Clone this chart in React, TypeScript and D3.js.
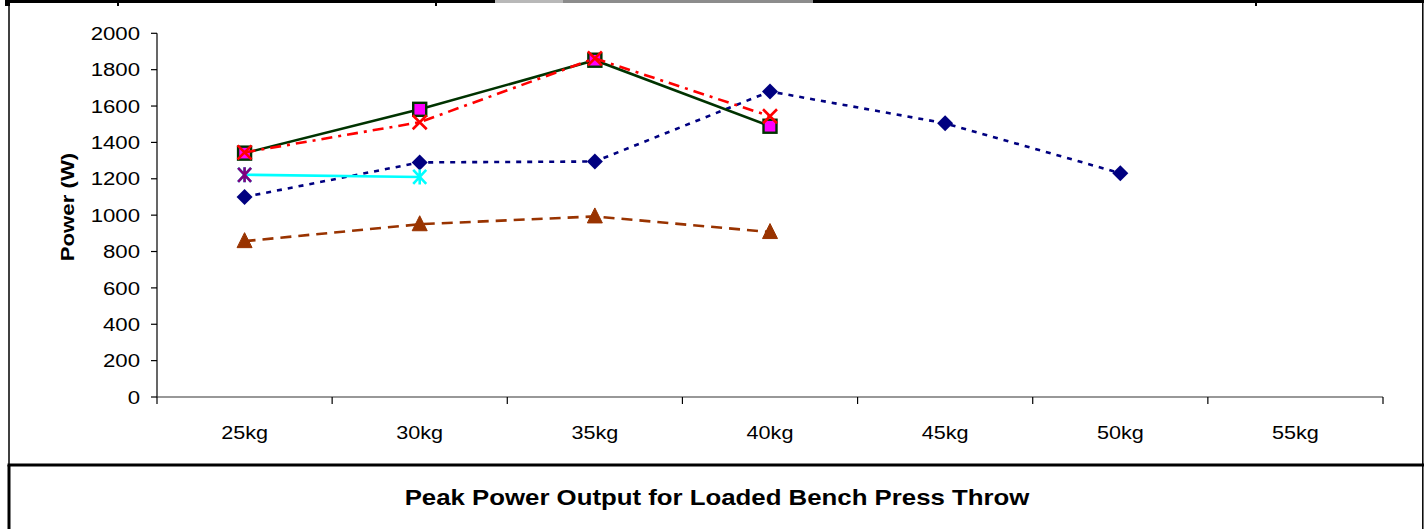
import React from "react";
import * as d3 from "d3";

const categories = ["25kg", "30kg", "35kg", "40kg", "45kg", "50kg", "55kg"];
const yTicks = [0, 200, 400, 600, 800, 1000, 1200, 1400, 1600, 1800, 2000];

const navySeries: (number | null)[] = [1100, 1290, 1295, 1680, 1505, 1231, null];
const brownSeries: (number | null)[] = [857, 950, 993, 907, null, null, null];
const cyanSeries: (number | null)[] = [1222, 1210, null, null, null, null, null];
const purpleSeries: (number | null)[] = [1222, null, null, null, null, null, null];
const greenSeries: (number | null)[] = [1341, 1582, 1852, 1489, null, null, null];
const redSeries: (number | null)[] = [1345, 1511, 1862, 1544, null, null, null];

const titleText = "Peak Power Output for Loaded Bench Press Throw";
const yTitle = "Power (W)";

const W = 1424;
const H = 529;
const plotL = 157;
const plotR = 1383;
const plotT = 33.3;
const plotB = 397;
const FONT = "'Liberation Sans', Arial, sans-serif";
const SX = 1.2;

function T(props: { x: number; y: number; anchor?: string; size: number; bold?: boolean; rotate?: number; dy?: string; children: React.ReactNode }) {
  const { x, y, anchor = "middle", size, bold, rotate = 0, dy, children } = props;
  return (
    <g transform={`translate(${x},${y}) rotate(${rotate}) scale(${SX},1)`}>
      <text x={0} y={0} dy={dy} textAnchor={anchor} fontSize={size} fontWeight={bold ? "bold" : "normal"} fill="#000">
        {children}
      </text>
    </g>
  );
}

export default function App() {
  const x = d3.scaleBand<string>().domain(categories).range([plotL, plotR]).padding(0);
  const y = d3.scaleLinear().domain([0, 2000]).range([plotB, plotT]);
  const cx = (c: string) => (x(c) as number) + x.bandwidth() / 2;

  const pts = (s: (number | null)[]) =>
    s.map((v, i) => ({ c: categories[i], v })).filter((d) => d.v !== null) as { c: string; v: number }[];

  const line = d3
    .line<{ c: string; v: number }>()
    .x((d) => cx(d.c))
    .y((d) => y(d.v));

  const diamond = (px: number, py: number, k: string) => (
    <path key={k} d={`M${px},${py - 8}L${px + 8},${py}L${px},${py + 8}L${px - 8},${py}Z`} fill="#000080" />
  );
  const triangle = (px: number, py: number, k: string) => (
    <path key={k} d={`M${px},${py - 8.5}L${px + 7.5},${py + 6.5}L${px - 7.5},${py + 6.5}Z`} fill="#993300" stroke="#993300" strokeWidth={1} strokeLinejoin="round" />
  );
  const square = (px: number, py: number, k: string) => (
    <rect key={k} x={px - 6.5} y={py - 6.5} width={13} height={13} fill="#FF00FF" stroke="#003300" strokeWidth={2.4} />
  );
  const xMark = (px: number, py: number, k: string) => (
    <path key={k} d={`M${px - 7},${py - 7}L${px + 7},${py + 7}M${px + 7},${py - 7}L${px - 7},${py + 7}`} stroke="#FF0000" strokeWidth={2.6} fill="none" />
  );
  const star = (px: number, py: number, color: string, k: string) => (
    <path key={k} d={`M${px - 6.5},${py - 7}L${px + 6.5},${py + 7}M${px + 6.5},${py - 7}L${px - 6.5},${py + 7}M${px},${py - 7.5}L${px},${py + 7.5}`} stroke={color} strokeWidth={2.6} fill="none" />
  );

  return (
    <svg width={W} height={H} style={{ position: "absolute", left: 0, top: 0, background: "#fff" }} fontFamily={FONT}>
      {/* frame */}
      <rect x={0} y={0} width={W} height={H} fill="#fff" />
      <line x1={5} x2={W} y1={1.5} y2={1.5} stroke="#000" strokeWidth={3.2} />
      <line x1={495} x2={563} y1={1.5} y2={1.5} stroke="#b8b8b8" strokeWidth={3.2} />
      <line x1={563} x2={813} y1={1.5} y2={1.5} stroke="#8c8c8c" strokeWidth={3.2} />
      <rect x={5} y={0} width={5} height={6} fill="#000" />
      {[118, 436, 1256].map((t) => (
        <line key={t} x1={t} x2={t} y1={0} y2={6} stroke="#000" strokeWidth={2} />
      ))}
      <line x1={9} x2={9} y1={0} y2={465} stroke="#000" strokeWidth={1.5} />
      <line x1={9} x2={9} y1={465} y2={H} stroke="#000" strokeWidth={3} />
      <line x1={1422.8} x2={1422.8} y1={0} y2={H} stroke="#000" strokeWidth={1.5} />
      <line x1={7.5} x2={W} y1={465} y2={465} stroke="#000" strokeWidth={3.2} />

      {/* y axis */}
      <line x1={plotL} x2={plotL} y1={plotT} y2={plotB} stroke="#000" strokeWidth={1.2} />
      {yTicks.map((t) => (
        <g key={t}>
          <line x1={plotL - 6} x2={plotL} y1={y(t)} y2={y(t)} stroke="#000" strokeWidth={1.2} />
          <T x={140} y={y(t)} dy="0.36em" anchor="end" size={18.5}>
            {t}
          </T>
        </g>
      ))}
      {/* x axis */}
      <line x1={plotL} x2={plotR} y1={plotB} y2={plotB} stroke="#333" strokeWidth={1.2} />
      <line x1={plotL} x2={plotL} y1={plotB} y2={plotB + 7} stroke="#000" strokeWidth={1.2} />
      {categories.map((c) => (
        <g key={c}>
          <line x1={(x(c) as number) + x.bandwidth()} x2={(x(c) as number) + x.bandwidth()} y1={plotB} y2={plotB + 7} stroke="#000" strokeWidth={1.2} />
          <T x={cx(c)} y={439} size={18}>
            {c}
          </T>
        </g>
      ))}

      <T x={74} y={207} rotate={-90} size={18.5} bold>
        {yTitle}
      </T>

      {/* series */}
      <path d={line(pts(navySeries)) || ""} fill="none" stroke="#000080" strokeWidth={2.6} strokeDasharray="5 6" />
      {pts(navySeries).map((d, i) => diamond(cx(d.c), y(d.v), "n" + i))}

      <path d={line(pts(brownSeries)) || ""} fill="none" stroke="#993300" strokeWidth={2.6} strokeDasharray="11 7" />
      {pts(brownSeries).map((d, i) => triangle(cx(d.c), y(d.v), "b" + i))}

      <path d={line(pts(cyanSeries)) || ""} fill="none" stroke="#00FFFF" strokeWidth={2.6} />
      {pts(cyanSeries).map((d, i) => star(cx(d.c), y(d.v), "#00FFFF", "c" + i))}
      {pts(purpleSeries).map((d, i) => star(cx(d.c), y(d.v), "#800080", "p" + i))}

      <path d={line(pts(greenSeries)) || ""} fill="none" stroke="#003300" strokeWidth={2.6} />
      {pts(greenSeries).map((d, i) => square(cx(d.c), y(d.v), "g" + i))}

      <path d={line(pts(redSeries)) || ""} fill="none" stroke="#FF0000" strokeWidth={2.6} strokeDasharray="11 6 3 6" />
      {pts(redSeries).map((d, i) => xMark(cx(d.c), y(d.v), "r" + i))}

      {/* title */}
      <T x={717} y={505} size={21.5} bold>
        {titleText}
      </T>
    </svg>
  );
}
